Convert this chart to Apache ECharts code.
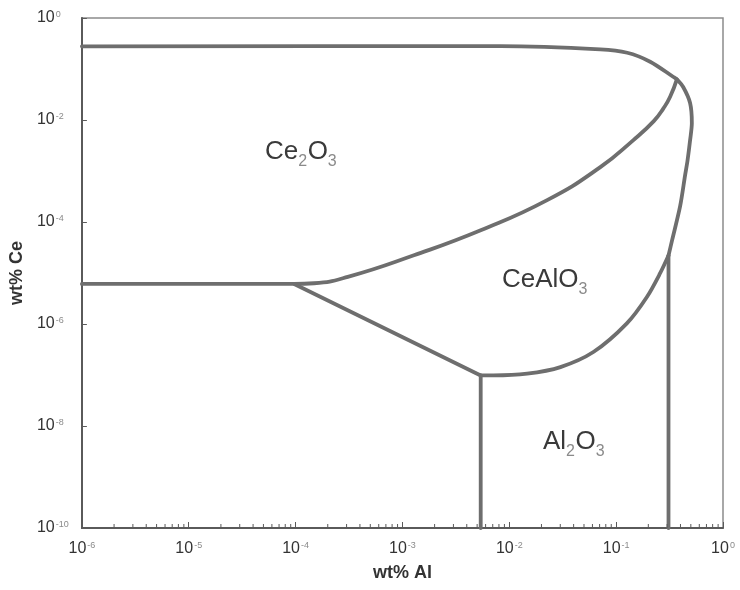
<!DOCTYPE html>
<html>
<head>
<meta charset="utf-8">
<script src="https://cdn.jsdelivr.net/npm/echarts@6/dist/echarts.min.js"></script>
<style>
  html, body { margin: 0; padding: 0; background: #ffffff; }
  #chart { width: 740px; height: 590px; }
</style>
</head>
<body>
<div id="chart"></div>
<script>
// Stability diagram of Ce / Al inclusions: points are [wt% Al, wt% Ce]

// Outer limit of the Ce2O3 field, running round the top-right corner and down
const outerBoundary = [
  [1e-6, 0.278], [8.3e-3, 0.282], [0.0711, 0.243], [0.127, 0.208],
  [0.208, 0.139], [0.341, 0.0705], [0.370, 0.0627], [0.424, 0.0443],
  [0.492, 0.0215], [0.511, 8.7e-3], [0.492, 4.0e-3], [0.466, 1.63e-3],
  [0.442, 8.3e-4], [0.397, 2.04e-4], [0.334, 4.40e-5], [0.309, 2.2e-5]
];

// Ce2O3 / CeAlO3 boundary
const ce2o3CeAlO3 = [
  [1e-6, 6.1e-6], [9.7e-5, 6.1e-6], [1.49e-4, 6.3e-6], [3.08e-4, 8.4e-6],
  [1.28e-3, 2.23e-5], [5.4e-3, 6.9e-5], [0.0226, 2.68e-4], [0.0711, 1.19e-3],
  [0.145, 4.04e-3], [0.225, 9.5e-3], [0.277, 0.0169], [0.320, 0.0285],
  [0.370, 0.0627]
];

// Ce2O3 / Al2O3 boundary (straight in log-log)
const ce2o3Al2o3 = [[9.7e-5, 6.1e-6], [5.4e-3, 9.8e-8]];

// CeAlO3 / Al2O3 boundary
const ceAlO3Al2o3 = [
  [5.4e-3, 9.8e-8], [7.1e-3, 9.8e-8], [0.0147, 1.06e-7], [0.0301, 1.43e-7],
  [0.0612, 2.82e-7], [0.126, 1.03e-6], [0.194, 3.39e-6], [0.258, 9.9e-6],
  [0.309, 2.2e-5]
];

// Vertical boundaries down to the bottom of the range
const leftVertical = [[5.4e-3, 9.8e-8], [5.4e-3, 1e-10]];
const rightVertical = [[0.309, 2.2e-5], [0.309, 1e-10]];

// Axis ranges (powers of ten)
const xRange = [1e-6, 1];
const yRange = [1e-10, 1];
const minorMultipliers = [2, 3, 4, 5, 6, 7, 8, 9];
const xDecades = [1e-6, 1e-5, 1e-4, 1e-3, 1e-2, 1e-1];

// Field names: pieces of each formula, subscripts flagged
const fieldLabels = [
  { parts: [['Ce', 0], ['2', 1], ['O', 0], ['3', 1]], left: 265, mid: 152 },
  { parts: [['CeAlO', 0], ['3', 1]], left: 502, mid: 280 },
  { parts: [['Al', 0], ['2', 1], ['O', 0], ['3', 1]], left: 543, mid: 442 }
];

const minorTickValues = [];
xDecades.forEach(function (d) {
  minorMultipliers.forEach(function (k) { minorTickValues.push([d * k, yRange[0]]); });
});

const LINE_COLOR = '#6e6e6e';
const FONT = '"Liberation Sans", Arial, sans-serif';
const MAIN_SIZE = 26;
const SUB_SIZE = 16;
const SUB_DROP = 9.5;

const measureCtx = document.createElement('canvas').getContext('2d');
function textWidth(t, size) {
  measureCtx.font = size + 'px ' + FONT;
  return measureCtx.measureText(t).width;
}

function formulaGraphic(f) {
  let x = f.left;
  const children = f.parts.map(function (p) {
    const isSub = p[1] === 1;
    const size = isSub ? SUB_SIZE : MAIN_SIZE;
    const el = {
      type: 'text',
      x: x,
      y: f.mid + (isSub ? SUB_DROP : 0),
      silent: true,
      style: {
        text: p[0], fontSize: size, fontFamily: FONT,
        fill: isSub ? '#8a8a8a' : '#3a3a3a',
        align: 'left', verticalAlign: 'middle'
      }
    };
    x += textWidth(p[0], size) + (isSub ? 0.5 : 0);
    return el;
  });
  return { type: 'group', children: children };
}

function powLabel(v) {
  const e = Math.round(Math.log10(v));
  return '{b|10}{s|' + e + '}';
}

const tickRich = {
  b: { fontSize: 16, color: '#333333', lineHeight: 16, verticalAlign: 'top', fontFamily: FONT },
  s: { fontSize: 9, color: '#8a8a8a', lineHeight: 9, verticalAlign: 'top', fontFamily: FONT, padding: [0, 0, 0, 1] }
};

function boundary(data, smooth) {
  return {
    type: 'line',
    data: data,
    smooth: smooth,
    showSymbol: false,
    symbol: 'none',
    silent: true,
    lineStyle: { color: LINE_COLOR, width: 3.8, cap: 'round', join: 'round' },
    z: 3
  };
}

const chart = echarts.init(document.getElementById('chart'), null, { renderer: 'canvas' });

chart.setOption({
  animation: false,
  backgroundColor: '#ffffff',
  grid: {
    left: 80, right: 17, top: 18, bottom: 62,
    show: true, borderColor: '#8c8c8c', borderWidth: 1.5, backgroundColor: 'transparent'
  },
  xAxis: {
    type: 'log', logBase: 10, min: xRange[0], max: xRange[1], interval: 1,
    name: 'wt% Al', nameLocation: 'middle', nameGap: 36,
    nameTextStyle: { fontSize: 18, fontWeight: 'bold', color: '#333333', fontFamily: FONT },
    axisLine: { show: true, lineStyle: { color: '#5a5a5a', width: 2 } },
    axisTick: { show: true, inside: true, length: 6, lineStyle: { color: '#5a5a5a', width: 1 } },
    minorTick: { show: false },
    splitLine: { show: false },
    axisLabel: { formatter: powLabel, rich: tickRich, margin: 13, color: '#333333' }
  },
  yAxis: {
    type: 'log', logBase: 10, min: yRange[0], max: yRange[1], interval: 2,
    name: 'wt% Ce', nameLocation: 'middle', nameGap: 55,
    nameTextStyle: { fontSize: 18, fontWeight: 'bold', color: '#333333', fontFamily: FONT },
    axisLine: { show: true, lineStyle: { color: '#5a5a5a', width: 2 } },
    axisTick: { show: true, inside: true, length: 5, lineStyle: { color: '#5a5a5a', width: 1 } },
    splitLine: { show: false },
    axisLabel: { formatter: powLabel, rich: tickRich, align: 'left', margin: 45, color: '#333333' }
  },
  series: [
    boundary(outerBoundary, 0.3),
    boundary(ce2o3CeAlO3, 0.5),
    boundary(ce2o3Al2o3, false),
    boundary(ceAlO3Al2o3, 0.3),
    boundary(leftVertical, false),
    boundary(rightVertical, false),
    {
      // minor ticks along the Al axis
      type: 'custom',
      silent: true,
      data: minorTickValues,
      renderItem: function (params, api) {
        const p = api.coord([api.value(0), api.value(1)]);
        return {
          type: 'line',
          shape: { x1: p[0], y1: p[1], x2: p[0], y2: p[1] - 4 },
          style: { stroke: '#5a5a5a', lineWidth: 1 }
        };
      },
      z: 4
    }
  ],
  graphic: fieldLabels.map(formulaGraphic)
});
</script>
</body>
</html>
